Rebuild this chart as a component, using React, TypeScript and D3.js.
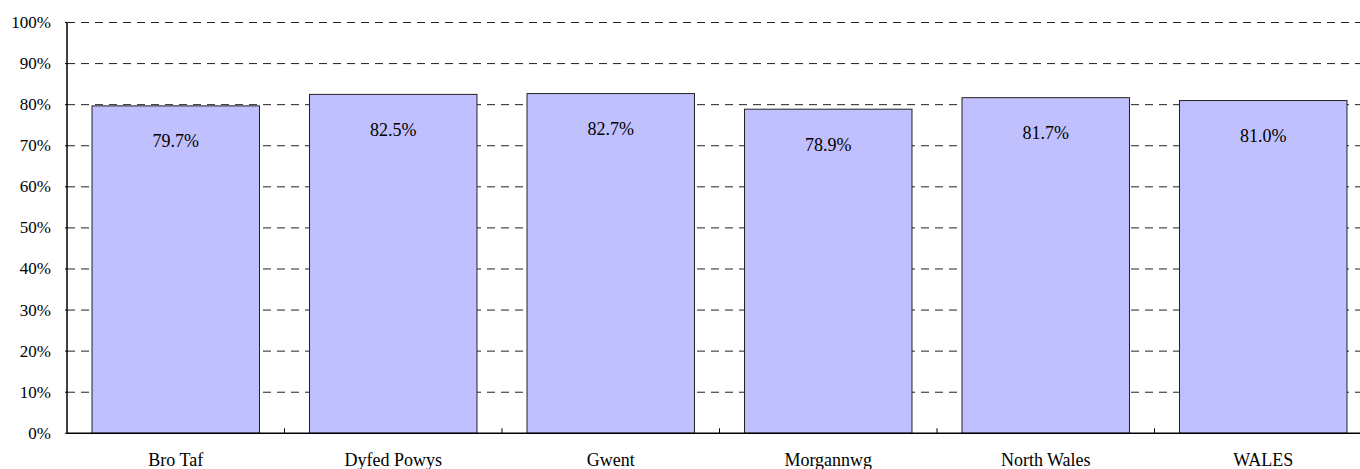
import React from "react";
import * as d3 from "d3";

const categories = ["Bro Taf", "Dyfed Powys", "Gwent", "Morgannwg", "North Wales", "WALES"];
const values = [79.7, 82.5, 82.7, 78.9, 81.7, 81.0];
const yTicks = [0, 10, 20, 30, 40, 50, 60, 70, 80, 90, 100];

const W = 1360;
const H = 469;
const left = 67;
const plotRight = 1372;
const top = 22.5;
const bottom = 433.3;
const font = "Liberation Serif, DejaVu Serif, serif";

export default function App() {
  const x = d3.scaleBand<string>().domain(categories).range([left, plotRight]).paddingInner(0.23).paddingOuter(0.115);
  const xb = d3.scaleBand<string>().domain(categories).range([left, plotRight]);
  const y = d3.scaleLinear().domain([0, 100]).range([bottom, top]);
  const ts = { fontFamily: font } as React.CSSProperties;

  return (
    <svg width={W} height={H} style={{ position: "absolute", left: 0, top: 0 }}>
      <rect x={0} y={0} width={W} height={H} fill="#fff" />
      {yTicks.filter((t) => t > 0).map((t) => (
        <line key={t} x1={left} x2={W} y1={y(t)} y2={y(t)} stroke="#222" strokeWidth={1} strokeDasharray="8,6" />
      ))}
      {categories.map((c, i) => (
        <g key={c}>
          <rect x={x(c)} y={y(values[i])} width={x.bandwidth()} height={y(0) - y(values[i])} fill="#C0C0FF" stroke="#222" strokeWidth={1} />
          <text x={(x(c) as number) + x.bandwidth() / 2} y={y(values[i]) + 41.5} textAnchor="middle" style={ts} fontSize={18} fill="#000">
            {values[i].toFixed(1)}%
          </text>
          <text x={(xb(c) as number) + xb.bandwidth() / 2} y={466} textAnchor="middle" style={ts} fontSize={18} fill="#000">
            {c}
          </text>
        </g>
      ))}
      {categories.slice(1).map((c) => (
        <line key={"t" + c} x1={xb(c)} x2={xb(c)} y1={bottom} y2={bottom - 5} stroke="#000" strokeWidth={1} />
      ))}
      {yTicks.map((t) => (
        <g key={"y" + t}>
          <line x1={left - 2} x2={left} y1={y(t)} y2={y(t)} stroke="#000" />
          <text x={51} y={y(t) + 5.5} textAnchor="end" style={ts} fontSize={17} fill="#000">
            {t}%
          </text>
        </g>
      ))}
      <line x1={left} x2={left} y1={top} y2={bottom} stroke="#000" strokeWidth={1.5} />
      <line x1={left} x2={W} y1={bottom} y2={bottom} stroke="#000" strokeWidth={1.5} />
    </svg>
  );
}
